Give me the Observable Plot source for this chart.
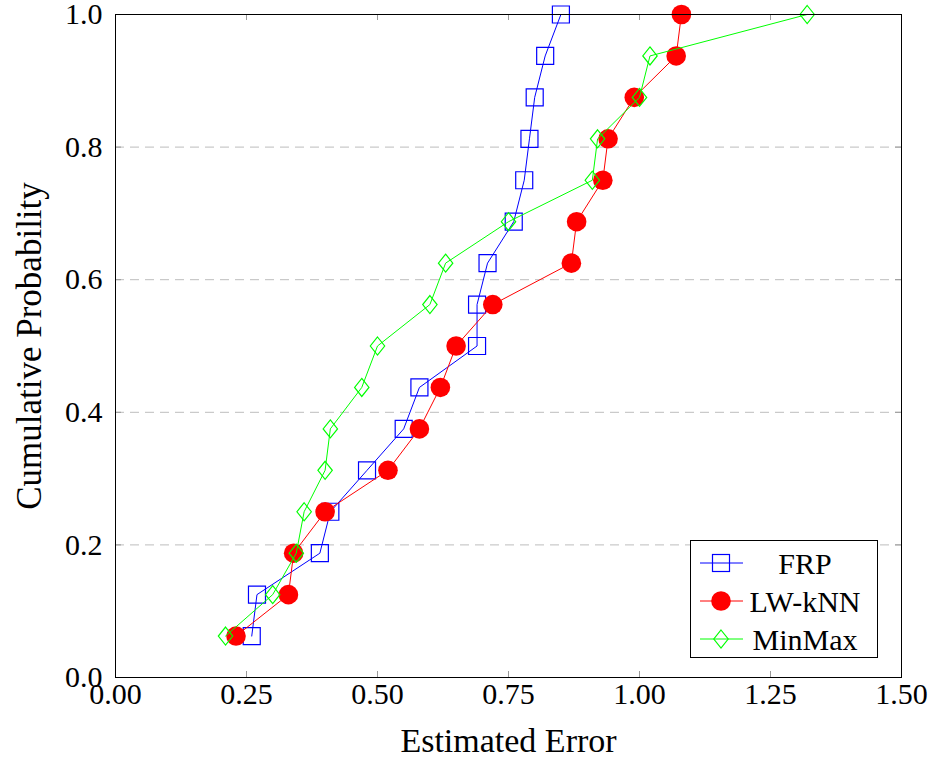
<!DOCTYPE html>
<html>
<head>
<meta charset="utf-8">
<script src="https://cdn.jsdelivr.net/npm/d3@7"></script>
<script src="https://cdn.jsdelivr.net/npm/@observablehq/plot@0.6"></script>
<style>
  body { margin: 0; background: white; }
  #chart { position: relative; width: 933px; height: 759px; }
</style>
</head>
<body>
<div id="chart"></div>
<script>
// Cumulative probability levels (y values shared by all series)
const prob = [0.0625, 0.125, 0.1875, 0.25, 0.3125, 0.375, 0.4375, 0.5,
              0.5625, 0.625, 0.6875, 0.75, 0.8125, 0.875, 0.9375, 1.0];
// Estimated error (x values) per series
const frp    = [0.26, 0.27, 0.39, 0.41, 0.48, 0.55, 0.58, 0.69,
                0.69, 0.71, 0.76, 0.78, 0.79, 0.80, 0.82, 0.85];
const lwknn  = [0.23, 0.33, 0.34, 0.40, 0.52, 0.58, 0.62, 0.65,
                0.72, 0.87, 0.88, 0.93, 0.94, 0.99, 1.07, 1.08];
const minmax = [0.21, 0.30, 0.345, 0.36, 0.40, 0.41, 0.47, 0.50,
                0.60, 0.63, 0.75, 0.91, 0.92, 1.00, 1.02, 1.32];

const seriesNames = ["FRP", "LW-kNN", "MinMax"];
const xTicks = [0, 0.25, 0.5, 0.75, 1.0, 1.25, 1.5];
const yTicks = [0, 0.2, 0.4, 0.6, 0.8, 1.0];
const gridTicks = [0.2, 0.4, 0.6, 0.8];

const toRows = (xs) => xs.map((x, i) => ({x, y: prob[i]}));
const dFRP = toRows(frp), dLW = toRows(lwknn), dMM = toRows(minmax);

const diamond = {
  draw(ctx, size) {
    const r = Math.sqrt(size / Math.PI);
    const w = r * 0.8;
    ctx.moveTo(0, -r); ctx.lineTo(w, 0); ctx.lineTo(0, r); ctx.lineTo(-w, 0); ctx.closePath();
  }
};

const W = 933, H = 759, mL = 115, mR = 32, mT = 14, mB = 82;
const fw = W - mL - mR, fh = H - mT - mB;

const plot = Plot.plot({
  width: W, height: H,
  marginLeft: mL, marginRight: mR, marginTop: mT, marginBottom: mB,
  style: {fontFamily: "'Liberation Serif', serif", fontSize: "30px", background: "white", color: "black", overflow: "visible"},
  x: {domain: [0, 1.5]},
  y: {domain: [0, 1]},
  marks: [
    Plot.gridY(gridTicks, {stroke: "#bdbdbd", strokeOpacity: 1, strokeDasharray: "9,6"}),
    // inward ticks
    Plot.tickX(xTicks, {x: d => d, stroke: "#999", insetTop: fh - 6}),
    Plot.tickX(xTicks, {x: d => d, stroke: "#999", insetBottom: fh - 6}),
    Plot.tickY(yTicks, {y: d => d, stroke: "#999", insetRight: fw - 6}),
    Plot.tickY(yTicks, {y: d => d, stroke: "#999", insetLeft: fw - 6}),
    Plot.axisX(xTicks, {tickSize: 0, tickPadding: 5, tickFormat: d3.format(".2f"), label: null, fontSize: 30}),
    Plot.axisY(yTicks, {tickSize: 0, tickPadding: 13, tickFormat: d3.format(".1f"), label: null, fontSize: 30}),
    // series
    Plot.line(dFRP, {x: "x", y: "y", stroke: "#0000ff", strokeWidth: 1}),
    Plot.dot(dFRP, {x: "x", y: "y", symbol: "square", r: 9.6, stroke: "#0000ff", strokeWidth: 1.2, fill: "none"}),
    Plot.line(dLW, {x: "x", y: "y", stroke: "#ff0000", strokeWidth: 1}),
    Plot.dot(dLW, {x: "x", y: "y", symbol: "circle", r: 9.8, fill: "#ff0000", stroke: "none"}),
    Plot.line(dMM, {x: "x", y: "y", stroke: "#00ff00", strokeWidth: 1}),
    Plot.dot(dMM, {x: "x", y: "y", symbol: diamond, r: 9, stroke: "#00ff00", strokeWidth: 1.2, fill: "none"}),
    Plot.frame({stroke: "black", strokeWidth: 1}),
    Plot.text(["Estimated Error"], {frameAnchor: "bottom", dy: 64, fontSize: 34, lineAnchor: "middle", textAnchor: "middle"}),
    Plot.text(["Cumulative Probability"], {frameAnchor: "left", dx: -86, rotate: -90, fontSize: 35, lineAnchor: "middle", textAnchor: "middle"})
  ]
});

document.getElementById("chart").appendChild(plot);

// Legend (inside plot, lower right)
const svg = d3.select(plot);
const lg = svg.append("g").attr("font-family", "'Liberation Serif', serif").attr("font-size", 30);
lg.append("rect").attr("x", 690.5).attr("y", 540.5).attr("width", 187).attr("height", 117)
  .attr("fill", "white").attr("stroke", "black");
const colors = ["#0000ff", "#ff0000", "#00ff00"];
seriesNames.forEach((name, i) => {
  const cy = 563 + i * 38;
  const g = lg.append("g");
  g.append("line").attr("x1", 700).attr("x2", 743).attr("y1", cy).attr("y2", cy)
    .attr("stroke", colors[i]).attr("stroke-width", 1);
  if (i === 0) {
    g.append("rect").attr("x", 721 - 8.5).attr("y", cy - 8.5).attr("width", 17).attr("height", 17)
      .attr("fill", "none").attr("stroke", colors[i]).attr("stroke-width", 1.2);
  } else if (i === 1) {
    g.append("circle").attr("cx", 721).attr("cy", cy).attr("r", 9.8).attr("fill", colors[i]);
  } else {
    g.append("path").attr("d", `M721,${cy - 9}L${721 + 7.2},${cy}L721,${cy + 9}L${721 - 7.2},${cy}Z`)
      .attr("fill", "none").attr("stroke", colors[i]).attr("stroke-width", 1.2);
  }
  g.append("text").attr("x", 805).attr("y", cy).attr("dy", "0.35em")
    .attr("text-anchor", "middle").attr("fill", "black").text(name);
});
</script>
</body>
</html>
